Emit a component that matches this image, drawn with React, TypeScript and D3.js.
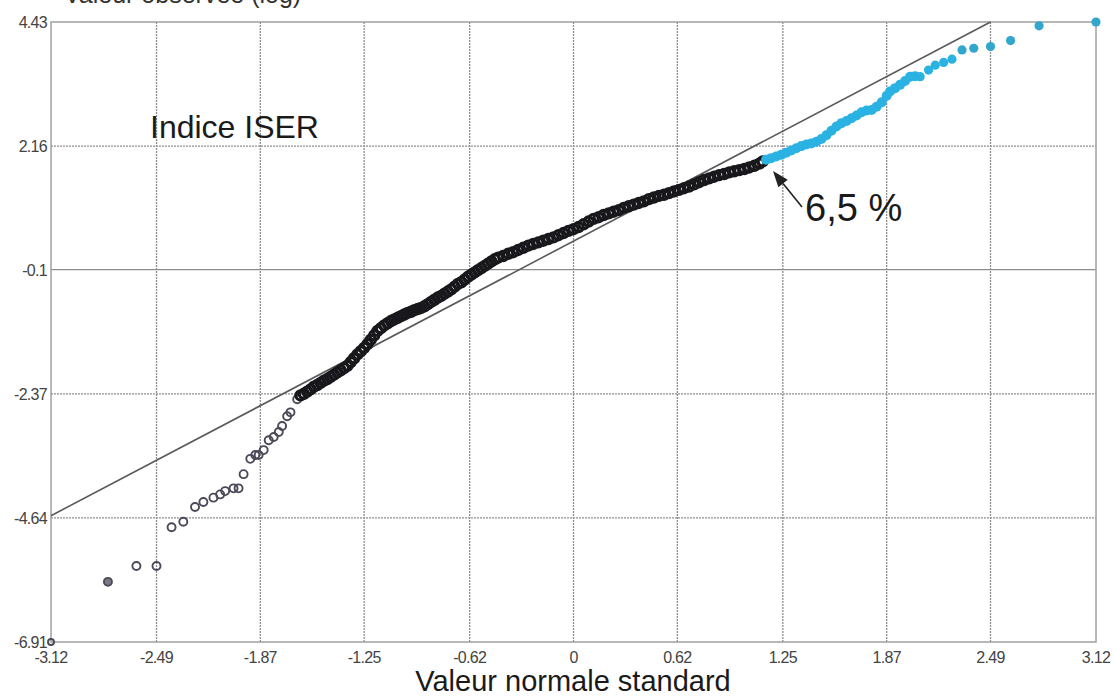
import React, { useEffect, useRef } from "react";
import * as d3 from "d3";

const W = 1113;
const H = 698;
const ML = 51;
const MR = 17;
const MT = 22;
const MB = 56;

const X_TICKS = [-3.12, -2.49, -1.87, -1.25, -0.62, 0, 0.62, 1.25, 1.87, 2.49, 3.12];
const Y_TICKS = [4.43, 2.16, -0.1, -2.37, -4.64, -6.91];

// lower tail, sparse open circles
const tailX = [-3.12, -2.78, -2.61, -2.49, -2.40, -2.33, -2.26, -2.21, -2.15, -2.11, -2.08, -2.03, -2.00, -1.97, -1.93, -1.90, -1.88, -1.85, -1.82, -1.79, -1.76, -1.74, -1.71, -1.69, -1.65];
const tailY = [-6.91, -5.81, -5.52, -5.52, -4.81, -4.71, -4.44, -4.35, -4.27, -4.21, -4.15, -4.10, -4.10, -3.84, -3.56, -3.49, -3.49, -3.40, -3.22, -3.16, -3.07, -2.96, -2.78, -2.71, -2.47];

// dense body of the distribution (black)
const bodyX = [
  -1.63, -1.61, -1.59, -1.57, -1.55, -1.53, -1.51, -1.49, -1.47, -1.45, -1.43, -1.41, -1.39, -1.37, -1.35,
  -1.33, -1.31, -1.29, -1.27, -1.25, -1.23, -1.21, -1.19, -1.17, -1.15, -1.13, -1.11, -1.09, -1.07, -1.05,
  -1.03, -1.01, -0.99, -0.97, -0.95, -0.93, -0.91, -0.89, -0.87, -0.85, -0.83, -0.81, -0.79, -0.77, -0.75,
  -0.73, -0.71, -0.69, -0.67, -0.65, -0.63, -0.61, -0.59, -0.57, -0.55, -0.53, -0.51, -0.49, -0.47, -0.45,
  -0.42, -0.39, -0.36, -0.33, -0.30, -0.27, -0.24, -0.21, -0.18, -0.15, -0.12, -0.09, -0.06, -0.03, 0.00,
  0.03, 0.06, 0.09, 0.12, 0.15, 0.18, 0.21, 0.24, 0.27, 0.30, 0.33, 0.36, 0.39, 0.42, 0.45,
  0.48, 0.51, 0.54, 0.57, 0.60, 0.63, 0.66, 0.69, 0.72, 0.75, 0.78, 0.81, 0.84, 0.87, 0.90,
  0.93, 0.96, 0.99, 1.02, 1.05, 1.08, 1.11, 1.13,
];
const bodyY = [
  -2.40, -2.37, -2.33, -2.29, -2.24, -2.21, -2.17, -2.13, -2.10, -2.06, -2.02, -1.98, -1.94, -1.90, -1.86,
  -1.79, -1.72, -1.65, -1.59, -1.53, -1.46, -1.38, -1.30, -1.22, -1.17, -1.12, -1.08, -1.04, -1.01, -0.98,
  -0.95, -0.92, -0.89, -0.87, -0.84, -0.82, -0.80, -0.77, -0.73, -0.69, -0.65, -0.61, -0.58, -0.54, -0.50,
  -0.46, -0.41, -0.36, -0.33, -0.28, -0.23, -0.19, -0.15, -0.11, -0.07, -0.03, 0.01, 0.05, 0.09, 0.12,
  0.15, 0.19, 0.22, 0.26, 0.30, 0.34, 0.37, 0.40, 0.43, 0.46, 0.49, 0.53, 0.57, 0.61, 0.64,
  0.68, 0.73, 0.78, 0.83, 0.86, 0.90, 0.93, 0.96, 0.99, 1.03, 1.06, 1.09, 1.12, 1.15, 1.19,
  1.22, 1.25, 1.27, 1.30, 1.33, 1.36, 1.39, 1.42, 1.46, 1.50, 1.54, 1.57, 1.60, 1.63, 1.65,
  1.68, 1.70, 1.72, 1.74, 1.77, 1.80, 1.84, 1.88,
];

// upper 6,5 % (cyan)
const topX = [
  1.15, 1.18, 1.21, 1.24, 1.27, 1.30, 1.33, 1.36, 1.39, 1.42, 1.45, 1.48, 1.51, 1.54, 1.57,
  1.60, 1.63, 1.66, 1.69, 1.72, 1.75, 1.78, 1.81, 1.84, 1.87, 1.89, 1.92, 1.95, 1.98, 2.01,
  2.04, 2.07, 2.12, 2.16, 2.21, 2.26, 2.32, 2.39, 2.49, 2.61, 2.78, 3.12,
];
const topY = [
  1.91, 1.94, 1.97, 2.00, 2.04, 2.08, 2.12, 2.16, 2.19, 2.21, 2.24, 2.29, 2.36, 2.44, 2.52,
  2.58, 2.62, 2.67, 2.72, 2.78, 2.81, 2.82, 2.88, 2.96, 3.08, 3.16, 3.22, 3.28, 3.35, 3.43,
  3.44, 3.43, 3.55, 3.64, 3.69, 3.75, 3.92, 3.95, 3.98, 4.09, 4.36, 4.43,
];

// reference (normal) line
const refX = [-3.12, 2.49];
const refY = [-4.60, 4.43];

const FONT = "'Liberation Sans', Arial, sans-serif";

const App = () => {
  const svgRef = useRef<SVGSVGElement | null>(null);

  useEffect(() => {
    if (!svgRef.current) return;
    const svg = d3.select(svgRef.current);
    svg.selectAll("*").remove();

    const x = d3.scaleLinear().domain([-3.12, 3.12]).range([ML, W - MR]);
    const y = d3.scaleLinear().domain([-6.91, 4.43]).range([H - MB, MT]);

    svg.append("rect").attr("width", W).attr("height", H).attr("fill", "#fff");

    // title, cut off by the top edge as in the scan
    svg.append("text")
      .attr("x", 64).attr("y", 3)
      .attr("font-size", "25px").attr("font-family", FONT)
      .attr("fill", "#333")
      .text("Valeur observée (log)");

    // ── Grid ───────────────────────────────────────────────
    const grid = svg.append("g");
    X_TICKS.slice(1, -1).forEach(t => {
      grid.append("line")
        .attr("x1", x(t)).attr("x2", x(t))
        .attr("y1", y(4.43)).attr("y2", y(-6.91))
        .attr("stroke", "#8e8e8e").attr("stroke-width", 1.3)
        .attr("stroke-dasharray", "2,1");
    });
    Y_TICKS.slice(1, -1).forEach(t => {
      grid.append("line")
        .attr("x1", x(-3.12)).attr("x2", x(3.12))
        .attr("y1", y(t)).attr("y2", y(t))
        .attr("stroke", "#8e8e8e").attr("stroke-width", 1.3)
        .attr("stroke-dasharray", t === -0.1 ? null : "2,1");
    });

    // frame
    svg.append("rect")
      .attr("x", x(-3.12)).attr("y", y(4.43))
      .attr("width", x(3.12) - x(-3.12)).attr("height", y(-6.91) - y(4.43))
      .attr("fill", "none").attr("stroke", "#a0a0a0").attr("stroke-width", 1.5);

    // ── Tick labels ────────────────────────────────────────
    svg.append("g").selectAll("text")
      .data(Y_TICKS).join("text")
      .attr("x", ML - 4).attr("y", d => y(d) + 6)
      .attr("text-anchor", "end")
      .attr("font-size", "16px").attr("letter-spacing", "-0.7px")
      .attr("font-family", FONT).attr("fill", "#444")
      .text(d => String(d));

    svg.append("g").selectAll("text")
      .data(X_TICKS).join("text")
      .attr("x", d => x(d)).attr("y", y(-6.91) + 21)
      .attr("text-anchor", "middle")
      .attr("font-size", "16px").attr("letter-spacing", "-0.7px")
      .attr("font-family", FONT).attr("fill", "#444")
      .text(d => String(d));

    svg.append("text")
      .attr("x", 573).attr("y", 691)
      .attr("text-anchor", "middle")
      .attr("font-size", "29px").attr("font-family", FONT)
      .attr("fill", "#1a1a1a")
      .text("Valeur normale standard");

    // ── Reference line ─────────────────────────────────────
    svg.append("line")
      .attr("x1", x(refX[0])).attr("y1", y(refY[0]))
      .attr("x2", x(refX[1])).attr("y2", y(refY[1]))
      .attr("stroke", "#5a5a5a").attr("stroke-width", 1.6);

    // ── Points ─────────────────────────────────────────────
    const pts = svg.append("g");
    tailX.forEach((v, i) => {
      pts.append("circle")
        .attr("cx", x(v)).attr("cy", y(tailY[i]))
        .attr("r", i === 0 ? 3 : 4)
        .attr("fill", i === 1 ? "#7a7a86" : "none")
        .attr("stroke", "#4a4a58").attr("stroke-width", 1.9);
    });
    bodyX.forEach((v, i) => {
      pts.append("circle")
        .attr("cx", x(v)).attr("cy", y(bodyY[i]))
        .attr("r", 4.6)
        .attr("fill", "none")
        .attr("stroke", "#18181c").attr("stroke-width", 3.2);
    });
    topX.forEach((v, i) => {
      pts.append("circle")
        .attr("cx", x(v)).attr("cy", y(topY[i]))
        .attr("r", i > 30 ? 4.6 : 5)
        .attr("fill", i > 35 ? "#33a6cc" : "#29b2e2");
    });

    // ── Annotations ────────────────────────────────────────
    svg.append("text")
      .attr("x", 150).attr("y", 138)
      .attr("font-size", "32px").attr("font-family", FONT)
      .attr("fill", "#1a1a1a")
      .text("Indice ISER");

    const tipX = 773, tipY = 171;
    const tailPX = 802, tailPY = 207;
    const ang = Math.atan2(tailPY - tipY, tailPX - tipX);
    const hl = 16, hw = 6;
    const bx = tipX + hl * Math.cos(ang), by = tipY + hl * Math.sin(ang);
    svg.append("line")
      .attr("x1", bx).attr("y1", by).attr("x2", tailPX).attr("y2", tailPY)
      .attr("stroke", "#222").attr("stroke-width", 1.6);
    svg.append("path")
      .attr("d", `M${tipX},${tipY} L${bx - hw * Math.sin(ang)},${by + hw * Math.cos(ang)} L${bx + hw * Math.sin(ang)},${by - hw * Math.cos(ang)} Z`)
      .attr("fill", "#222");

    svg.append("text")
      .attr("x", 805).attr("y", 221)
      .attr("font-size", "38px").attr("font-family", FONT)
      .attr("fill", "#1a1a1a")
      .text("6,5 %");
  }, []);

  return (
    <svg
      ref={svgRef}
      width={W}
      height={H}
      style={{ position: "absolute", left: 0, top: 0 }}
    />
  );
};

export default App;
